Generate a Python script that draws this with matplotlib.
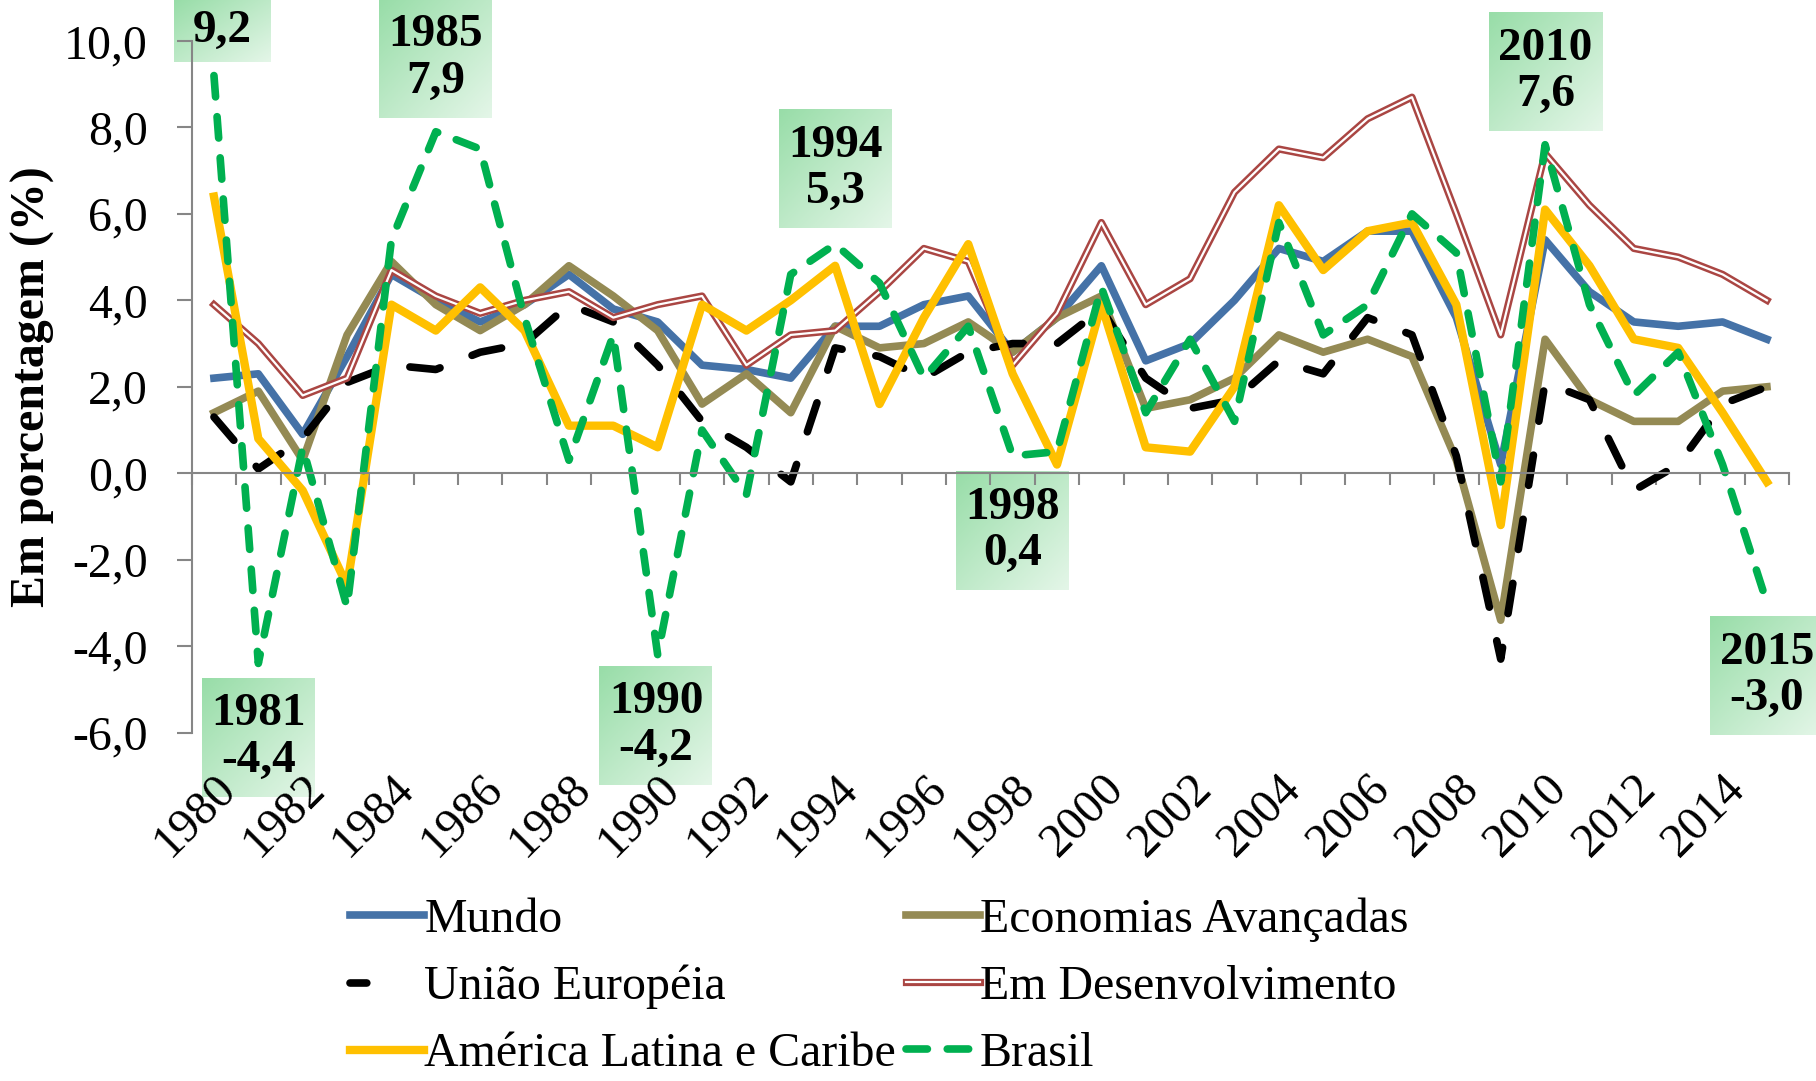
import numpy as np
import matplotlib.pyplot as plt
import matplotlib.patheffects as pe
from matplotlib.lines import Line2D

plt.rcParams['font.family'] = ['Liberation Serif', 'DejaVu Serif']

years = list(range(1980, 2016))

mundo = [2.2, 2.3, 0.9, 2.7, 4.6, 4.0, 3.5, 3.9, 4.6, 3.8, 3.5, 2.5, 2.4, 2.2, 3.4, 3.4, 3.9, 4.1,
         2.8, 3.6, 4.8, 2.6, 3.0, 4.0, 5.2, 4.9, 5.6, 5.6, 3.6, 0.2, 5.4, 4.2, 3.5, 3.4, 3.5, 3.1]
avancadas = [1.4, 1.9, 0.3, 3.2, 4.9, 3.9, 3.3, 3.9, 4.8, 4.1, 3.3, 1.6, 2.3, 1.4, 3.4, 2.9, 3.0, 3.5,
             2.8, 3.6, 4.1, 1.5, 1.7, 2.2, 3.2, 2.8, 3.1, 2.7, 0.3, -3.4, 3.1, 1.7, 1.2, 1.2, 1.9, 2.0]
uniao_europeia = [1.3, 0.1, 0.8, 2.1, 2.5, 2.4, 2.8, 3.0, 3.9, 3.5, 2.5, 1.2, 0.6, -0.2, 2.9, 2.7, 2.2, 2.8,
                  3.0, 3.0, 3.8, 2.2, 1.5, 1.7, 2.6, 2.3, 3.6, 3.2, 0.4, -4.3, 2.1, 1.7, -0.4, 0.2, 1.6, 2.0]
em_desenvolvimento = [3.9, 3.0, 1.8, 2.2, 4.7, 4.1, 3.7, 4.0, 4.2, 3.6, 3.9, 4.1, 2.5, 3.2, 3.3, 4.2, 5.2, 4.9,
                      2.5, 3.7, 5.8, 3.9, 4.5, 6.5, 7.5, 7.3, 8.2, 8.7, 6.0, 3.2, 7.4, 6.2, 5.2, 5.0, 4.6, 4.0]
america_latina = [6.4, 0.8, -0.4, -2.6, 3.9, 3.3, 4.3, 3.3, 1.1, 1.1, 0.6, 3.9, 3.3, 4.0, 4.8, 1.6, 3.6, 5.3,
                  2.3, 0.2, 3.9, 0.6, 0.5, 2.0, 6.2, 4.7, 5.6, 5.8, 3.9, -1.2, 6.1, 4.8, 3.1, 2.9, 1.4, -0.2]
brasil = [9.2, -4.4, 0.6, -3.1, 5.4, 7.9, 7.5, 3.6, 0.3, 3.2, -4.2, 1.0, -0.5, 4.6, 5.3, 4.4, 2.2, 3.4,
          0.4, 0.5, 4.3, 1.4, 3.1, 1.2, 5.8, 3.2, 3.9, 6.0, 5.1, -0.2, 7.6, 3.9, 1.8, 2.8, 0.2, -3.0]

# Brazil call-outs: year -> box centre in figure fraction (layout only)
callout_years = [1980, 1981, 1985, 1990, 1994, 1998, 2010, 2015]
callout_centres = [(0.1222, 0.9713), (0.1423, 0.3182), (0.2398, 0.9459), (0.3612, 0.3293),
                   (0.4601, 0.8437), (0.5578, 0.5088), (0.8511, 0.9334), (0.9730, 0.3747)]

FS = 34.5


def fmt(v):
    return f"{v:.1f}".replace('.', ',')


gray = '#868686'
fig = plt.figure(figsize=(18.16, 10.81), dpi=100)
ax = fig.add_axes([0.1056, 0.3223, 0.8796, 0.6398])
ax.set_zorder(2)
ax.patch.set_visible(False)

x = np.arange(len(years))
l_mundo, = ax.plot(x, mundo, color='#4572A7', lw=5.5, label='Mundo')
l_av, = ax.plot(x, avancadas, color='#948A54', lw=5.5, label='Economias Avançadas')
l_ue, = ax.plot(x, uniao_europeia, color='black', lw=5.5, dashes=(4, 4.5),
                dash_capstyle='round', label='União Européia')
l_dev, = ax.plot(x, em_desenvolvimento, color='white', lw=1.6, label='Em Desenvolvimento',
                 path_effects=[pe.Stroke(linewidth=5.2, foreground='#AA4643'), pe.Normal()])
l_al, = ax.plot(x, america_latina, color='#FFC000', lw=6, label='América Latina e Caribe')
l_br, = ax.plot(x, brasil, color='#00B050', lw=5.5, dashes=(2.8, 2.6),
                dash_capstyle='round', label='Brasil')

ax.set_xlim(-0.5, len(years) - 0.5)
ax.set_ylim(-6, 10)

for s in ['top', 'right']:
    ax.spines[s].set_visible(False)
ax.spines['left'].set_color(gray)
ax.spines['left'].set_linewidth(1.5)
ax.spines['bottom'].set_position(('data', 0))
ax.spines['bottom'].set_color(gray)
ax.spines['bottom'].set_linewidth(1.5)

yt = np.arange(-6, 10.1, 2)
ax.set_yticks(yt, labels=[fmt(v) for v in yt])
ax.tick_params(axis='y', length=10.8, width=1.5, color=gray, pad=21, labelsize=FS)
ax.set_xticks(np.arange(-0.5, len(years), 1))
ax.tick_params(axis='x', length=8.6, width=1.5, color=gray, direction='out', labelbottom=False)

sec = ax.secondary_xaxis('bottom')
sec.spines['bottom'].set_visible(False)
sec.set_xticks(x[::2], labels=[str(y) for y in years[::2]])
sec.tick_params(length=0, pad=24, labelsize=FS)
plt.setp(sec.get_xticklabels(), rotation=45, ha='right', va='top', rotation_mode='anchor')

ax.set_ylabel('Em porcentagem (%)', fontsize=FS, fontweight='bold')
ax.yaxis.set_label_coords(-0.0856, 0.5)

# gradient call-out boxes
c0 = np.array([152, 221, 168]) / 255
c1 = np.array([228, 246, 232]) / 255
gx, gy = np.meshgrid(np.linspace(0, 1, 60), np.linspace(0, 1, 60))
t = ((gx + gy) / 2)[..., None]
grad = c0 * (1 - t) + c1 * t

for yr, (cx, cy) in zip(callout_years, callout_centres):
    val = brasil[years.index(yr)]
    if yr == years[0]:
        txt = fmt(val)
        w, h = 96 / 1816, 62 / 1081
    else:
        txt = f"{yr}\n{fmt(val)}"
        w, h = 113 / 1816, 119 / 1081
    bax = fig.add_axes([cx - w / 2, cy - h / 2, w, h])
    bax.set_zorder(1)
    bax.imshow(grad, extent=(0, 1, 0, 1), aspect='auto', origin='upper')
    bax.axis('off')
    bax.text(0.5, 0.5, txt, ha='center', va='center', fontsize=34,
             fontweight='bold', linespacing=1.15, transform=bax.transAxes)

# legend: the EU key shows a single short dash as in the original
ue_key = Line2D([], [], color='black', lw=5.5, dashes=(2.2, 9), dash_capstyle='round')
handles = [l_mundo, ue_key, l_al, l_av, l_dev, l_br]
labels = ['Mundo', 'União Européia', 'América Latina e Caribe',
          'Economias Avançadas', 'Em Desenvolvimento', 'Brasil']
fig.legend(handles, labels, ncol=2, loc='center left',
           bbox_to_anchor=(0.1927, 0.087), frameon=False, fontsize=FS,
           handlelength=1.55, handletextpad=0.0, columnspacing=0.2,
           borderpad=0, borderaxespad=0, labelspacing=0.48)

fig.savefig('out.png', dpi=100, facecolor='white')
